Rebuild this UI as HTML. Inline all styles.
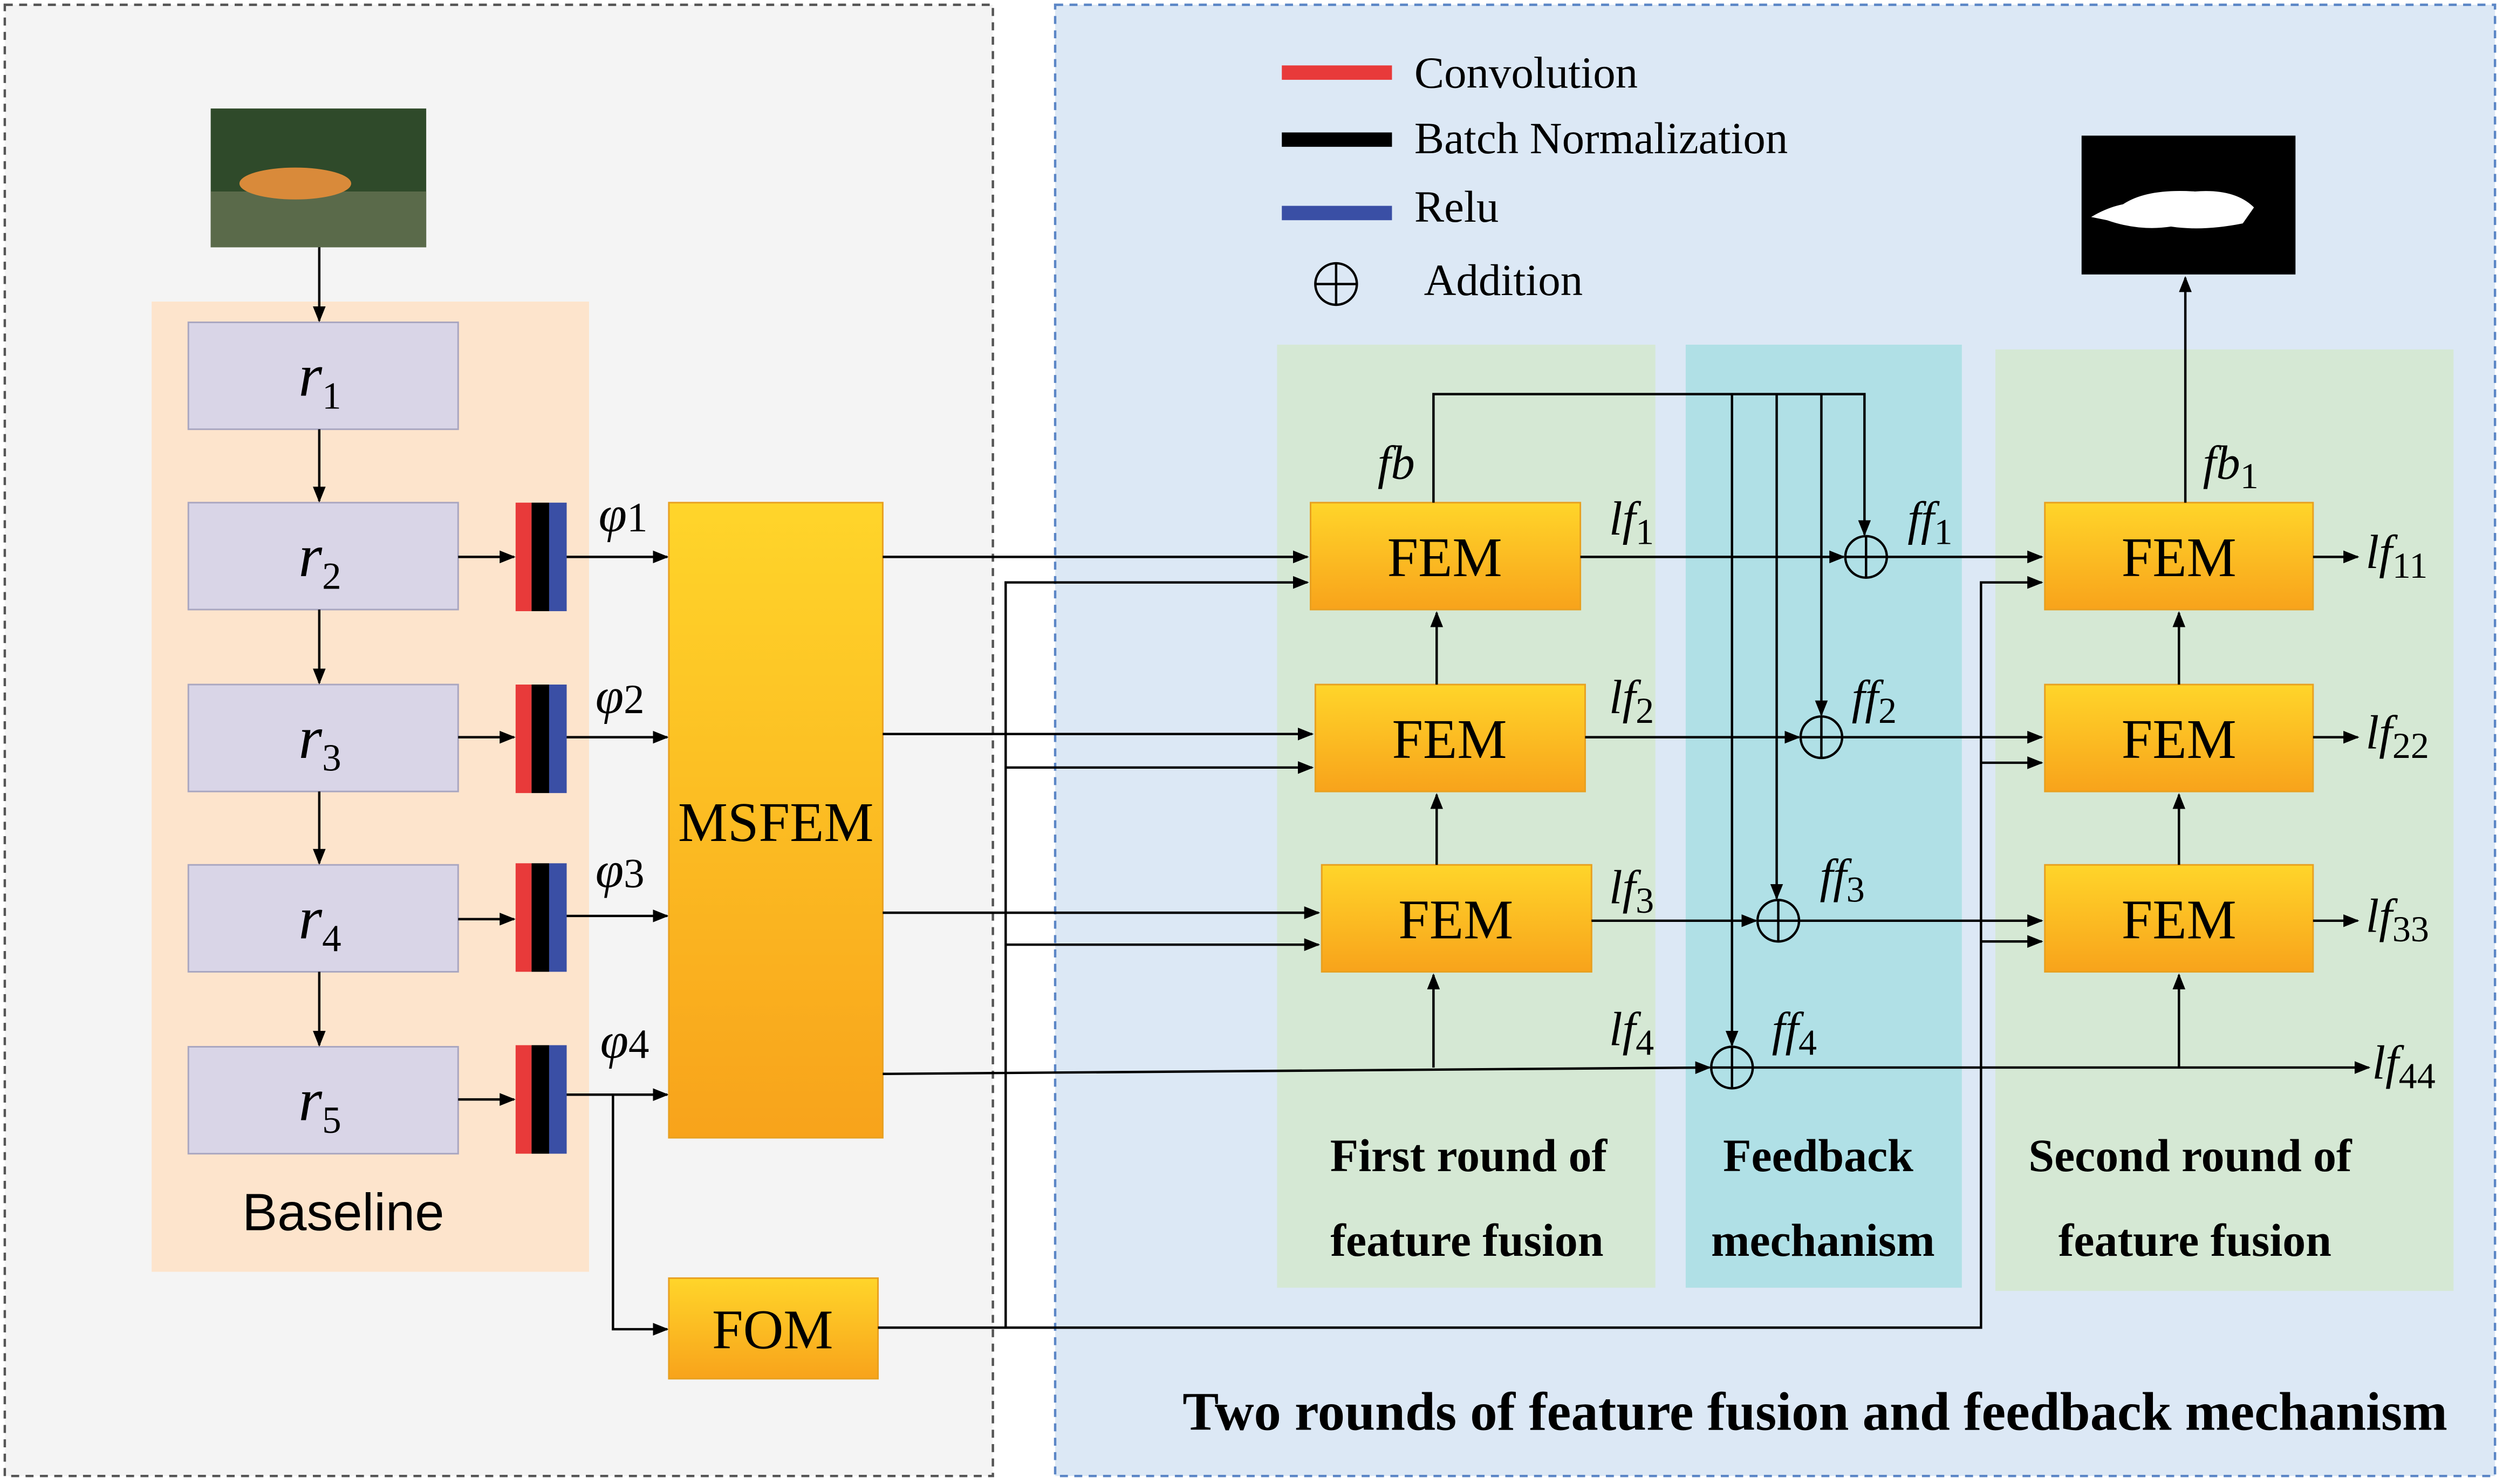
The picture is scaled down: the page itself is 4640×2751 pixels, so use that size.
<!DOCTYPE html>
<html><head><meta charset="utf-8"><style>
html,body{margin:0;padding:0;background:#fff;}
svg{display:block;}
.m{font-family:"Liberation Serif",serif;font-style:italic;fill:#000;}
.s{font-family:"Liberation Serif",serif;fill:#000;}
.b{font-family:"Liberation Serif",serif;font-weight:bold;fill:#000;}
.f{font-family:"Liberation Sans",sans-serif;fill:#000;}
</style></head><body>
<svg width="4640" height="2751" viewBox="0 0 1568 930" preserveAspectRatio="none" xmlns="http://www.w3.org/2000/svg">
<defs>
<linearGradient id="g" x1="0" y1="0" x2="0" y2="1"><stop offset="0" stop-color="#ffd52a"/><stop offset="1" stop-color="#f8a31b"/></linearGradient>
<marker id="a" markerWidth="10" markerHeight="8" refX="9" refY="4" orient="auto" markerUnits="userSpaceOnUse"><path d="M0,0 L10,4 L0,8 z" fill="#000"/></marker>
</defs>
<rect width="1568" height="930" fill="#fff"/>
<rect x="3" y="3" width="619" height="922" fill="#f4f4f4" stroke="#555" stroke-width="1.5" stroke-dasharray="5,4"/>
<rect x="661" y="3" width="902" height="922" fill="#dce8f5" stroke="#5b86c6" stroke-width="1.5" stroke-dasharray="5,4"/>
<!-- tiger -->
<rect x="132" y="68" width="135" height="87" fill="#2f4a2a"/>
<rect x="132" y="120" width="135" height="35" fill="#5a6a4a"/>
<ellipse cx="185" cy="115" rx="35" ry="10" fill="#d98a3a"/>
<!-- baseline -->
<rect x="95" y="189" width="274" height="608" fill="#fde4cc"/>
<text x="215" y="771" class="f" text-anchor="middle" font-size="33">Baseline</text>
<g fill="#d9d5e7" stroke="#a9a6c0">
<rect x="118" y="202" width="169" height="67"/><rect x="118" y="315" width="169" height="67"/><rect x="118" y="429" width="169" height="67"/><rect x="118" y="542" width="169" height="67"/><rect x="118" y="656" width="169" height="67"/>
</g>
<g class="m" font-size="38">
<text x="187" y="248">r<tspan font-size="24" dy="8" font-style="normal">1</tspan></text>
<text x="187" y="361">r<tspan font-size="24" dy="8" font-style="normal">2</tspan></text>
<text x="187" y="475">r<tspan font-size="24" dy="8" font-style="normal">3</tspan></text>
<text x="187" y="588">r<tspan font-size="24" dy="8" font-style="normal">4</tspan></text>
<text x="187" y="702">r<tspan font-size="24" dy="8" font-style="normal">5</tspan></text>
</g>
<g stroke="#000" stroke-width="1.5" fill="none" marker-end="url(#a)">
<line x1="200" y1="155" x2="200" y2="201"/><line x1="200" y1="269" x2="200" y2="314"/><line x1="200" y1="382" x2="200" y2="428"/><line x1="200" y1="496" x2="200" y2="541"/><line x1="200" y1="609" x2="200" y2="655"/>
<line x1="287" y1="349" x2="322" y2="349"/><line x1="287" y1="462" x2="322" y2="462"/><line x1="287" y1="576" x2="322" y2="576"/><line x1="287" y1="689" x2="322" y2="689"/>
<line x1="355" y1="349" x2="418" y2="349"/><line x1="355" y1="462" x2="418" y2="462"/><line x1="355" y1="574" x2="418" y2="574"/><line x1="355" y1="686" x2="418" y2="686"/>
<polyline points="384,686 384,833 418,833"/>
</g>
<g>
<rect x="323" y="315" width="10" height="68" fill="#e83a3a"/><rect x="333" y="315" width="11" height="68" fill="#000"/><rect x="344" y="315" width="11" height="68" fill="#3a4fa5"/>
<rect x="323" y="429" width="10" height="68" fill="#e83a3a"/><rect x="333" y="429" width="11" height="68" fill="#000"/><rect x="344" y="429" width="11" height="68" fill="#3a4fa5"/>
<rect x="323" y="541" width="10" height="68" fill="#e83a3a"/><rect x="333" y="541" width="11" height="68" fill="#000"/><rect x="344" y="541" width="11" height="68" fill="#3a4fa5"/>
<rect x="323" y="655" width="10" height="68" fill="#e83a3a"/><rect x="333" y="655" width="11" height="68" fill="#000"/><rect x="344" y="655" width="11" height="68" fill="#3a4fa5"/>
</g>
<g class="m" font-size="32">
<text x="375" y="333">φ<tspan font-style="normal" font-size="26">1</tspan></text>
<text x="373" y="447">φ<tspan font-style="normal" font-size="26">2</tspan></text>
<text x="373" y="556">φ<tspan font-style="normal" font-size="26">3</tspan></text>
<text x="376" y="663">φ<tspan font-style="normal" font-size="26">4</tspan></text>
</g>
<rect x="419" y="315" width="134" height="398" fill="url(#g)" stroke="#e8a020"/>
<text x="486" y="527" class="s" font-size="35" text-anchor="middle">MSFEM</text>
<rect x="419" y="801" width="131" height="63" fill="url(#g)" stroke="#e8a020"/>
<text x="484" y="845" class="s" font-size="35" text-anchor="middle">FOM</text>
<!-- panels -->
<rect x="800" y="216" width="237" height="591" fill="#d5e8d4"/>
<rect x="1056" y="216" width="173" height="591" fill="#b0e0e6"/>
<rect x="1250" y="219" width="287" height="590" fill="#d5e8d4"/>
<!-- legend -->
<rect x="803" y="41" width="69" height="9" fill="#e83a3a"/><rect x="803" y="83" width="69" height="9" fill="#000"/><rect x="803" y="129" width="69" height="9" fill="#3a4fa5"/>
<g class="s" font-size="28">
<text x="886" y="55">Convolution</text><text x="886" y="96">Batch Normalization</text><text x="886" y="139">Relu</text><text x="892" y="185">Addition</text>
</g>
<g stroke="#000" stroke-width="1.5" fill="none"><circle cx="837" cy="178" r="13"/><line x1="824" y1="178" x2="850" y2="178"/><line x1="837" y1="165" x2="837" y2="191"/></g>
<!-- output image -->
<rect x="1304" y="85" width="134" height="87" fill="#000"/>
<path d="M1310,136 Q1320,130 1330,128 Q1345,118 1375,120 Q1400,118 1412,130 L1405,140 Q1380,145 1360,142 Q1340,145 1320,138 Z" fill="#fff"/>
<!-- FEMs -->
<g fill="url(#g)" stroke="#e8a020">
<rect x="821" y="315" width="169" height="67"/><rect x="824" y="429" width="169" height="67"/><rect x="828" y="542" width="169" height="67"/>
<rect x="1281" y="315" width="168" height="67"/><rect x="1281" y="429" width="168" height="67"/><rect x="1281" y="542" width="168" height="67"/>
</g>
<g class="s" font-size="35" text-anchor="middle">
<text x="905" y="361">FEM</text><text x="908" y="475">FEM</text><text x="912" y="588">FEM</text>
<text x="1365" y="361">FEM</text><text x="1365" y="475">FEM</text><text x="1365" y="588">FEM</text>
</g>
<g stroke="#000" stroke-width="1.5" fill="none" marker-end="url(#a)">
<line x1="553" y1="349" x2="819" y2="349"/><line x1="553" y1="460" x2="822" y2="460"/><line x1="553" y1="572" x2="826" y2="572"/>
<polyline points="553,673 1071,669"/>
<polyline points="550,832 1241,832 1241,365 1279,365"/>
<polyline points="630,832 630,365 819,365"/>
<line x1="630" y1="481" x2="822" y2="481"/><line x1="630" y1="592" x2="826" y2="592"/>
<line x1="1241" y1="478" x2="1279" y2="478"/><line x1="1241" y1="590" x2="1279" y2="590"/>
<line x1="900" y1="429" x2="900" y2="384"/><line x1="900" y1="542" x2="900" y2="498"/><line x1="898" y1="669" x2="898" y2="611"/>
<line x1="1365" y1="429" x2="1365" y2="384"/><line x1="1365" y1="542" x2="1365" y2="498"/><line x1="1365" y1="669" x2="1365" y2="611"/>
<polyline points="898,315 898,247 1168,247 1168,335"/>
<line x1="1141" y1="247" x2="1141" y2="448"/><line x1="1113" y1="247" x2="1113" y2="563"/><line x1="1085" y1="247" x2="1085" y2="655"/>
<line x1="990" y1="349" x2="1155" y2="349"/><line x1="1182" y1="349" x2="1279" y2="349"/>
<line x1="993" y1="462" x2="1127" y2="462"/><line x1="1154" y1="462" x2="1279" y2="462"/>
<line x1="997" y1="577" x2="1100" y2="577"/><line x1="1127" y1="577" x2="1279" y2="577"/>
<line x1="1098" y1="669" x2="1484" y2="669"/>
<line x1="1369" y1="315" x2="1369" y2="174"/>
<line x1="1449" y1="349" x2="1477" y2="349"/><line x1="1449" y1="462" x2="1477" y2="462"/><line x1="1449" y1="577" x2="1477" y2="577"/>
</g>
<g stroke="#000" stroke-width="1.5" fill="none">
<circle cx="1169" cy="349" r="13"/><line x1="1156" y1="349" x2="1182" y2="349"/><line x1="1169" y1="336" x2="1169" y2="362"/>
<circle cx="1141" cy="462" r="13"/><line x1="1128" y1="462" x2="1154" y2="462"/><line x1="1141" y1="449" x2="1141" y2="475"/>
<circle cx="1114" cy="577" r="13"/><line x1="1101" y1="577" x2="1127" y2="577"/><line x1="1114" y1="564" x2="1114" y2="590"/>
<circle cx="1085" cy="669" r="13"/><line x1="1072" y1="669" x2="1098" y2="669"/><line x1="1085" y1="656" x2="1085" y2="682"/>
</g>
<g class="m" font-size="30">
<text x="863" y="300">fb</text><text x="1380" y="300">fb<tspan font-style="normal" font-size="23" dy="6">1</tspan></text>
<text x="1008" y="335">lf<tspan font-style="normal" font-size="23" dy="6">1</tspan></text>
<text x="1008" y="447">lf<tspan font-style="normal" font-size="23" dy="6">2</tspan></text>
<text x="1008" y="566">lf<tspan font-style="normal" font-size="23" dy="6">3</tspan></text>
<text x="1008" y="655">lf<tspan font-style="normal" font-size="23" dy="6">4</tspan></text>
<text x="1195" y="335">ff<tspan font-style="normal" font-size="23" dy="6">1</tspan></text>
<text x="1160" y="447">ff<tspan font-style="normal" font-size="23" dy="6">2</tspan></text>
<text x="1140" y="559">ff<tspan font-style="normal" font-size="23" dy="6">3</tspan></text>
<text x="1110" y="655">ff<tspan font-style="normal" font-size="23" dy="6">4</tspan></text>
<text x="1482" y="356">lf<tspan font-style="normal" font-size="23" dy="6">11</tspan></text>
<text x="1482" y="469">lf<tspan font-style="normal" font-size="23" dy="6">22</tspan></text>
<text x="1482" y="584">lf<tspan font-style="normal" font-size="23" dy="6">33</tspan></text>
<text x="1486" y="676">lf<tspan font-style="normal" font-size="23" dy="6">44</tspan></text>
</g>
<g class="b" font-size="29" text-anchor="middle">
<text x="920" y="734">First round of</text><text x="919" y="787">feature fusion</text>
<text x="1139" y="734">Feedback</text><text x="1142" y="787">mechanism</text>
<text x="1372" y="734">Second round of</text><text x="1375" y="787">feature fusion</text>
</g>
<text x="1137" y="896" class="b" font-size="34" text-anchor="middle">Two rounds of feature fusion and feedback mechanism</text>
</svg>
</body></html>
